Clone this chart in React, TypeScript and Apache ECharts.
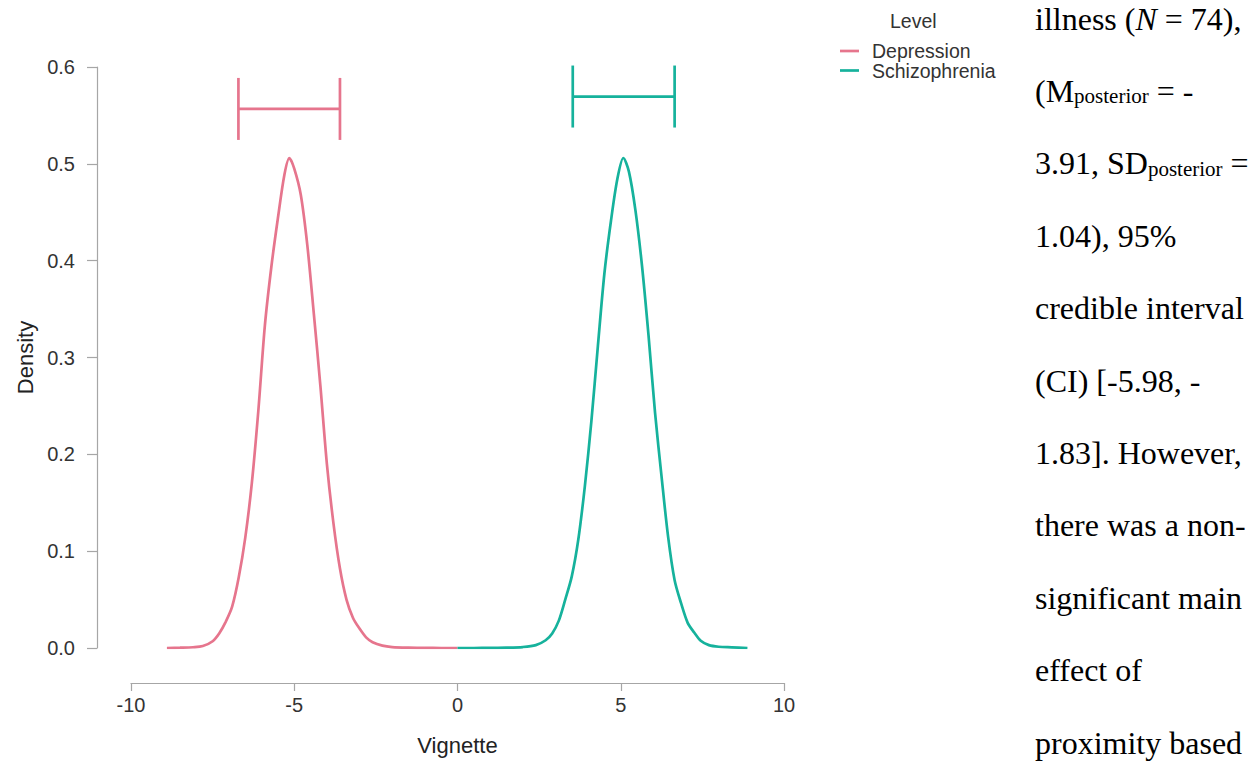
import React, { useEffect, useRef } from "react";
import * as echarts from "echarts";

const LEVELS = ["Depression", "Schizophrenia"];
const COLORS = ["#E6758D", "#16B29C"];

const X_MIN = -10;
const X_MAX = 10;
const X_STEP = 5;
const Y_MIN = 0;
const Y_MAX = 0.6;
const Y_STEP = 0.1;

// Posterior density of the Depression vignette
const DEP_X = [-8.9, -8.5, -8.1, -7.8, -7.5, -7.3, -7.1, -6.9, -6.7, -6.5, -6.3, -6.1, -5.9, -5.7, -5.5, -5.3, -5.15, -5.0, -4.8, -4.6, -4.4, -4.2, -4.0, -3.8, -3.6, -3.4, -3.2, -3.0, -2.8, -2.6, -2.3, -2.0, -1.5, -1.0, -0.5, 0];
const DEP_Y = [0.0, 0.0003, 0.0008, 0.002, 0.007, 0.015, 0.027, 0.043, 0.073, 0.114, 0.17, 0.245, 0.333, 0.394, 0.444, 0.489, 0.506, 0.495, 0.468, 0.416, 0.345, 0.271, 0.19, 0.129, 0.082, 0.05, 0.031, 0.02, 0.011, 0.006, 0.0025, 0.001, 0.0003, 0.0001, 0.0, 0.0];

// Posterior density of the Schizophrenia vignette
const SCH_X = [0, 0.5, 1.0, 1.5, 2.0, 2.4, 2.7, 2.9, 3.1, 3.3, 3.5, 3.7, 3.9, 4.1, 4.3, 4.5, 4.7, 4.9, 5.08, 5.25, 5.45, 5.65, 5.85, 6.05, 6.25, 6.45, 6.65, 6.85, 7.05, 7.25, 7.45, 7.7, 8.0, 8.4, 8.88];
const SCH_Y = [0.0, 0.0, 0.0001, 0.0003, 0.001, 0.003, 0.008, 0.015, 0.028, 0.05, 0.074, 0.112, 0.167, 0.234, 0.312, 0.387, 0.441, 0.485, 0.506, 0.492, 0.452, 0.395, 0.323, 0.243, 0.177, 0.115, 0.07, 0.046, 0.026, 0.016, 0.0075, 0.003, 0.0013, 0.0007, 0.0];

// Credible interval bars
const CI_LOW = [-6.71, 3.53];
const CI_HIGH = [-3.6, 6.65];
const CI_Y = [0.5567, 0.5695];

// Right-hand text column (tokens: n = normal, i = italic, s = subscript)
const TEXT_LINES: [string, string][][] = [
  [["n", "illness ("], ["i", "N"], ["n", " = 74),"]],
  [["n", "(M"], ["s", "posterior"], ["n", " = -"]],
  [["n", "3.91, SD"], ["s", "posterior"], ["n", " ="]],
  [["n", "1.04), 95%"]],
  [["n", "credible interval"]],
  [["n", "(CI) [-5.98, -"]],
  [["n", "1.83]. However,"]],
  [["n", "there was a non-"]],
  [["n", "significant main"]],
  [["n", "effect of"]],
  [["n", "proximity based"]],
];

const SANS = "'Liberation Sans', Arial, Helvetica, sans-serif";
const SERIF = "'Liberation Serif', 'Times New Roman', serif";

export default function App() {
  const ref = useRef<HTMLDivElement>(null);

  useEffect(() => {
    if (!ref.current) return;
    const chart = echarts.init(ref.current, undefined, { renderer: "svg" });

    const grid = { left: 131, right: 471, top: 67, bottom: 128 };

    const densities = [
      DEP_X.map((x, i) => [x, DEP_Y[i]]),
      SCH_X.map((x, i) => [x, SCH_Y[i]]),
    ];

    const lineSeries = LEVELS.map((name, k) => ({
      type: "line",
      name,
      data: densities[k],
      showSymbol: false,
      smooth: 0.3,
      lineStyle: { color: COLORS[k], width: 2.7 },
      itemStyle: { color: COLORS[k] },
      z: 3,
    }));

    const ciData = LEVELS.map((_, k) => [CI_LOW[k], CI_HIGH[k], CI_Y[k], k]);

    const ciSeries = {
      type: "custom",
      name: "CI",
      data: ciData,
      encode: { x: [0, 1], y: 2 },
      renderItem: (params: any, api: any) => {
        const lo = api.coord([api.value(0), api.value(2)]);
        const hi = api.coord([api.value(1), api.value(2)]);
        const col = COLORS[api.value(3)];
        const h = 31;
        const style = { stroke: col, lineWidth: 2.7 };
        return {
          type: "group",
          children: [
            { type: "line", shape: { x1: lo[0], y1: lo[1], x2: hi[0], y2: hi[1] }, style },
            { type: "line", shape: { x1: lo[0], y1: lo[1] - h, x2: lo[0], y2: lo[1] + h }, style },
            { type: "line", shape: { x1: hi[0], y1: hi[1] - h, x2: hi[0], y2: hi[1] + h }, style },
          ],
        };
      },
      z: 3,
    };

    // Legend drawn as graphics
    const legendGraphics: any[] = [
      {
        type: "text",
        x: 890,
        y: 21,
        style: { text: "Level", font: `19.5px ${SANS}`, fill: "#333", verticalAlign: "middle", align: "left", lineHeight: 19.5 },
      },
    ];
    LEVELS.forEach((name, k) => {
      const y = 51 + k * 19.5;
      legendGraphics.push({
        type: "line",
        shape: { x1: 840, y1: y, x2: 859, y2: y },
        style: { stroke: COLORS[k], lineWidth: 2.7 },
      });
      legendGraphics.push({
        type: "text",
        x: 872,
        y,
        style: {
          text: name,
          font: `19.5px ${SANS}`,
          fill: "#333",
          verticalAlign: "middle",
          align: "left",
          lineHeight: 19.5,
        },
      });
    });

    // Text column
    const rich = {
      n: { fontFamily: SERIF, fontSize: 32, lineHeight: 36, verticalAlign: "bottom", color: "#111" },
      i: { fontFamily: SERIF, fontSize: 32, fontStyle: "italic", lineHeight: 36, verticalAlign: "bottom", color: "#111" },
      s: { fontFamily: SERIF, fontSize: 21, lineHeight: 18, verticalAlign: "bottom", color: "#111" },
    };
    const textGraphics = TEXT_LINES.map((tokens, i) => {
      const baseline = 27 + 72.4 * i;
      return {
        type: "text",
        x: 1035,
        y: baseline + 7.5,
        style: {
          text: tokens.map(([s, t]) => `{${s}|${t}}`).join(""),
          rich,
          verticalAlign: "bottom",
          align: "left",
        },
      };
    });

    chart.setOption({
      animation: false,
      backgroundColor: "#ffffff",
      grid,
      xAxis: {
        type: "value",
        min: X_MIN,
        max: X_MAX,
        interval: X_STEP,
        offset: 35,
        name: "Vignette",
        nameLocation: "middle",
        nameGap: 51,
        nameTextStyle: { fontFamily: SANS, fontSize: 22, color: "#222" },
        axisLine: { show: true, onZero: false, lineStyle: { color: "#a6a6a6", width: 1.2 } },
        axisTick: { show: true, length: 8, lineStyle: { color: "#a6a6a6", width: 1.2 } },
        axisLabel: { fontFamily: SANS, fontSize: 20, color: "#333", margin: 12 },
        splitLine: { show: false },
      },
      yAxis: {
        type: "value",
        min: Y_MIN,
        max: Y_MAX,
        interval: Y_STEP,
        offset: 34,
        name: "Density",
        nameLocation: "middle",
        nameGap: 61,
        nameTextStyle: { fontFamily: SANS, fontSize: 22, color: "#222" },
        axisLine: { show: true, onZero: false, lineStyle: { color: "#a6a6a6", width: 1.2 } },
        axisTick: { show: true, length: 10, lineStyle: { color: "#a6a6a6", width: 1.2 } },
        axisLabel: {
          fontFamily: SANS,
          fontSize: 20,
          color: "#333",
          margin: 22,
          formatter: (v: number) => v.toFixed(1),
        },
        splitLine: { show: false },
      },
      series: [...lineSeries, ciSeries],
      graphic: [...legendGraphics, ...textGraphics],
    });

    return () => chart.dispose();
  }, []);

  return (
    <div
      ref={ref}
      style={{ position: "fixed", left: 0, top: 0, width: 1255, height: 776, background: "#fff" }}
    />
  );
}
